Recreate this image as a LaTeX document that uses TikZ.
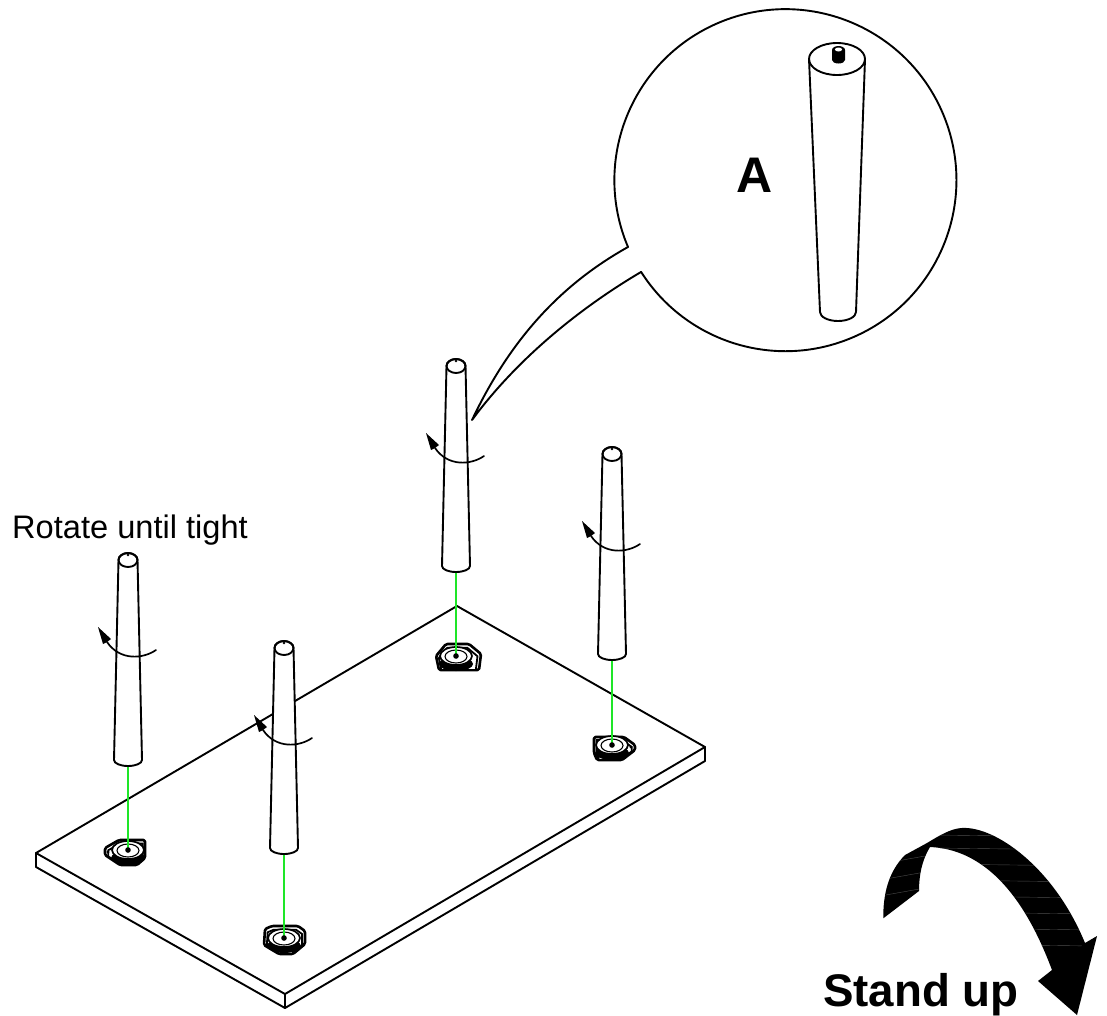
\documentclass[tikz,border=0pt]{standalone}
\usepackage{fontspec}
\setmainfont{Liberation Sans}
\tikzset{
  ln/.style={line width=1.9pt,line cap=round,line join=round},
  fitln/.style={line width=2.6pt,line join=round},
  greenln/.style={line width=2.2pt,draw={rgb,255:red,30;green,230;blue,40}},
  streak/.style={line width=0.4pt,draw=white!30!black},
}
\newcommand{\tblleg}[3]{% cx, top, green length
  \begin{scope}[shift={(#1,#2)}]
    \draw[greenln] (0,213) -- (0,#3);
    \draw[ln,fill=white] (-9.5,7) -- (-14,207) arc[start angle=180,end angle=0,x radius=14,y radius=6] -- (9.5,7) arc[start angle=360,end angle=180,x radius=9.5,y radius=7] -- cycle;
    \draw[ln] (0,7) ellipse[x radius=9.5,y radius=7];
    \fill (0,2) circle[radius=1.3];
    \draw[ln,line width=1.7pt] (28,97) .. controls (15,106) and (-8,108) .. (-21,89);
    \fill (-30,74) -- (-25,91) -- (-21,89) -- (-17,86) -- cycle;
  \end{scope}}
\newcommand{\fitting}[4]{% cx, cy, outer polygon, hole
  \begin{scope}[shift={(#1,#2)}]
    \draw[fitln,fill=white,rounded corners=1.5pt] #3 -- cycle;
    \begin{scope}[shift={(0,2)},scale=0.86]
      \draw[line width=1.8pt,fill=white] #3 -- cycle;
    \end{scope}
    \fill (0,8) ellipse[x radius=17,y radius=7];
    \draw[line width=1.7pt,fill=white] (0,0) ellipse[x radius=16,y radius=9];
    \draw[line width=1.1pt] (0,0.5) ellipse[x radius=11,y radius=6.5];
    #4
  \end{scope}}
\newcommand{\fitdot}[2]{\fill (#1,#2) circle[radius=2.8];}
\begin{document}
\begin{tikzpicture}[x=1pt,y=-1pt]
\useasboundingbox (0,0) rectangle (1107,1015);
% table
\draw[ln] (457,606) -- (705,747) -- (285,994) -- (36,853) -- cycle;
\draw[ln] (36,853) -- (36,867) -- (285,1008) -- (705,761) -- (705,747);
\draw[ln] (285,994) -- (285,1008);
% fittings
\fitting{456}{656}{(-20,0) -- (-10,-12) -- (13,-12) -- (25,-2) -- (23,14) -- (-17,14)}{}
\fitting{612}{745}{(-18,-8) -- (12,-8) -- (23,0) -- (23,5) -- (10,15) -- (-15,15) -- (-18,8)}{\fill (19,2) circle[radius=1.6];}
\fitting{128}{850}{(-23,-2) -- (-9,-10) -- (17,-10) -- (17,8) -- (9,15) -- (-8,15) -- (-23,5)}{\fill (-20,2) circle[radius=1.6];}
\fitting{284}{938}{(-19,-9) -- (-12,-12) -- (14,-12) -- (21,-7) -- (21,6) -- (9,16) -- (-5,16) -- (-20,7)}{}
% legs
\tblleg{456}{359}{297}
\tblleg{612}{447}{298}
\tblleg{128}{553}{297}
\tblleg{284}{641}{297}
\fitdot{456}{656}\fitdot{612}{745}\fitdot{128}{850}\fitdot{284}{938}
% callout
\draw[ln] (628,247) arc[start angle=157,end angle=507.6,radius=171];
\draw[ln] (628,247) .. controls (560,285) and (510,340) .. (472,420)
          .. controls (520,355) and (585,305) .. (641,272);
% enlarged leg
\draw[ln] (809,59) -- (820,312) arc[start angle=180,end angle=0,x radius=18,y radius=9] -- (865,59);
\draw[ln] (837,59) ellipse[x radius=28,y radius=16];
\fill (832,50) arc[start angle=180,end angle=360,x radius=6.5,y radius=4] -- (845,60) arc[start angle=0,end angle=180,x radius=6.5,y radius=3.5] -- cycle;
\fill[white] (838.5,49.5) ellipse[x radius=3.6,y radius=2];
% texts
\node[anchor=base,font=\bfseries\fontsize{50}{50}\selectfont,inner sep=0pt] (labela) at (755,192) {A};
\node[anchor=base west,font=\fontsize{32.6}{32.6}\selectfont,inner sep=0pt] (rotate) at (12,538) {Rotate until tight};
\node[anchor=base west,font=\bfseries\fontsize{45.7}{46}\selectfont,inner sep=0pt] (stand) at (823,1006) {Stand up};
% big arrow
\fill[black] (883.3,918.3) .. controls (883,895) and (888,872) .. (905,855)
  -- (927,843) .. controls (945,832) and (955,827) .. (967,828)
  .. controls (1000,830) and (1055,870) .. (1085,943)
  -- (1097,936) -- (1077,1015) -- (1038,981) -- (1052,970)
  .. controls (1035,925) and (1000,850) .. (930,847)
  .. controls (922,860) and (919,875) .. (919,891) -- cycle;
\begin{scope}
  \clip (883.3,918.3) .. controls (883,895) and (888,872) .. (905,855)
  -- (927,843) .. controls (945,832) and (955,827) .. (967,828)
  .. controls (1000,830) and (1055,870) .. (1085,943)
  -- (1052,970)
  .. controls (1035,925) and (1000,850) .. (930,847)
  .. controls (922,860) and (919,875) .. (919,891) -- cycle;
  \foreach \yy in {835,848,864,880,896,912,928,944}
    \draw[streak] (935,\yy) -- (1095,\yy+2);
  \foreach \yy in {858,874,890}
    \draw[streak] (880,\yy+6) -- (925,\yy-2);
\end{scope}
\end{tikzpicture}
\end{document}
